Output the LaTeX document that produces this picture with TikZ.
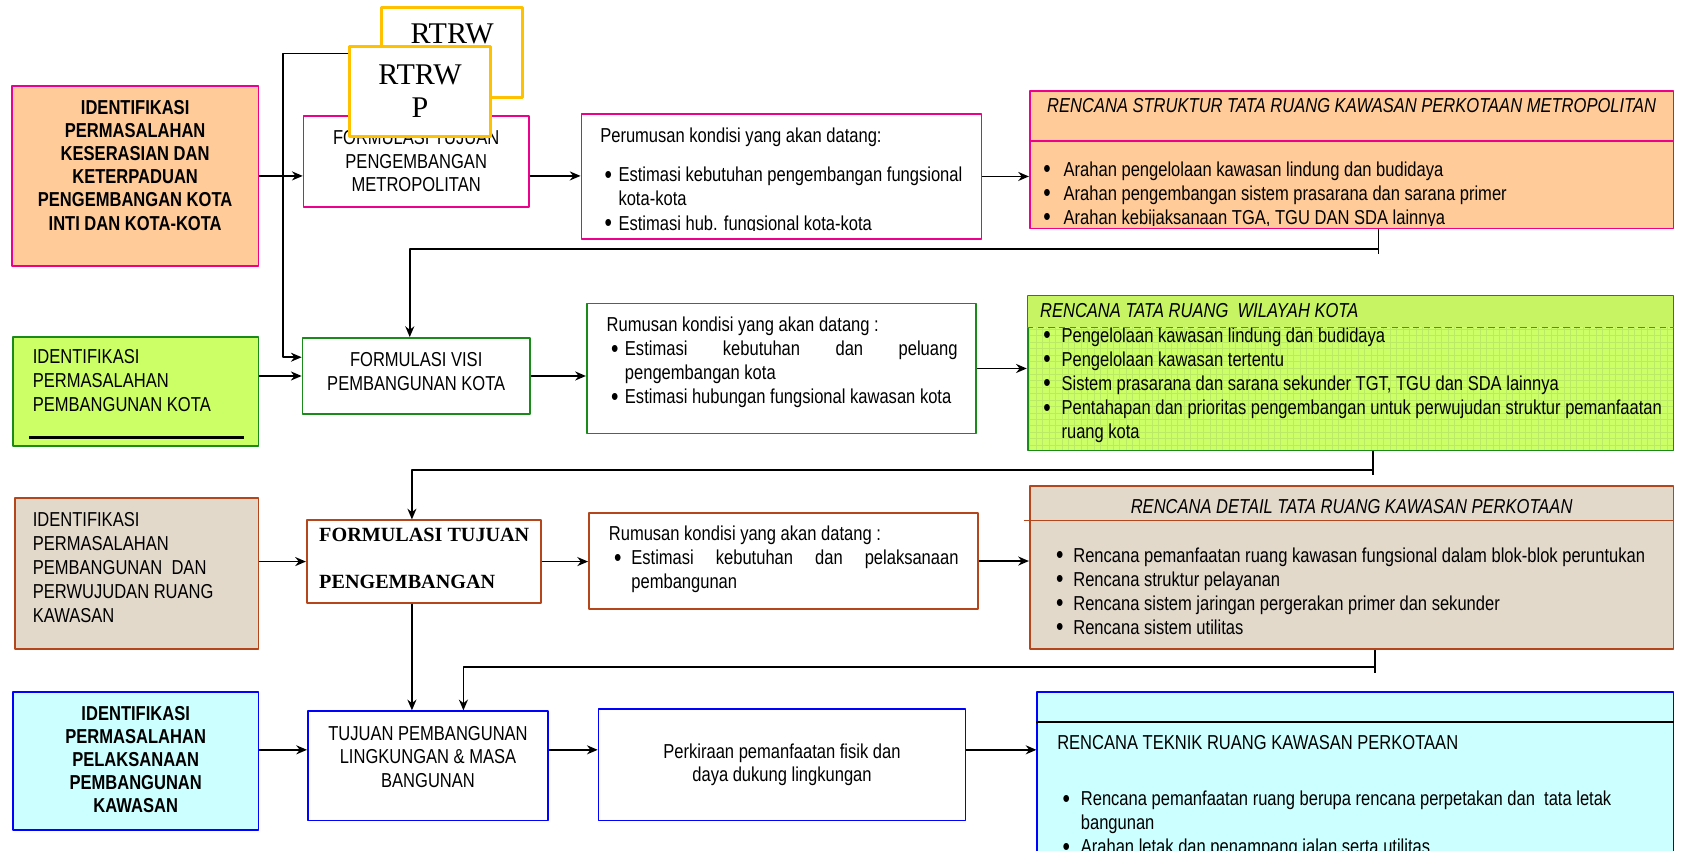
\documentclass[tikz,border=0pt]{standalone}
\usepackage{fontspec}
\setmainfont{Liberation Sans}[FakeStretch=0.82]
\newfontfamily\tnr{Liberation Serif}
\usetikzlibrary{fit,patterns,arrows.meta}
\definecolor{cpeach}{HTML}{FFCC99}
\definecolor{climey}{HTML}{CCFF66}
\definecolor{cband}{HTML}{C6F462}
\definecolor{cgrid}{HTML}{BBEA68}
\definecolor{cbeige}{HTML}{E2D9CB}
\definecolor{caqua}{HTML}{CCFFFF}
\definecolor{cgold}{HTML}{FFC000}
\definecolor{crust}{HTML}{B5461C}
\definecolor{cgreen}{HTML}{1A8A1A}
\newcommand{\blt}[2]{\hspace*{#1}\makebox[#2][l]{\raisebox{-.7pt}{\fontsize{12}{11}\selectfont\textbullet}}}
\begin{document}
\begin{tikzpicture}[x=.5pt,y=-.5pt,line join=round,>={Stealth[length=5pt,width=4.2pt]},
  font=\fontsize{9.4}{11}\selectfont,
  box/.style={draw,line width=.8pt,inner sep=0pt},
  arr/.style={->,line width=.8pt},
  txt/.style={inner sep=0pt,align=left,font=\fontsize{9.4}{11.2}\selectfont},
  ctxt/.style={inner sep=0pt,align=center,font=\fontsize{9.4}{11}\selectfont},
  btxt/.style={inner sep=0pt,align=center,font=\fontsize{9.4}{10.8}\selectfont\bfseries},
  itxt/.style={inner sep=0pt,font=\fontsize{9.4}{11}\selectfont\itshape},
  rtrw/.style={box,draw=cgold,line width=1.3pt,fill=white}]
\useasboundingbox (0,0) rectangle (1568,793);
\clip (0,0) rectangle (1568,793);
% baris 1 : metropolitan
\node[box,draw=magenta,fill=cpeach,fit={(11,80) (241,248)}] (idm) {};
\node[btxt] (idm-t) at ([shift={(0,-10)}]idm.center)
  {IDENTIFIKASI\\PERMASALAHAN\\KESERASIAN DAN\\KETERPADUAN\\PENGEMBANGAN KOTA\\INTI DAN KOTA-KOTA};
\node[box,draw=magenta,fit={(283,108) (493,193)}] (ftm) {};
\node[ctxt] (ftm-t) at (ftm.center) {FORMULASI TUJUAN\\PENGEMBANGAN\\METROPOLITAN};
\node[rtrw,fit={(356,7) (487,91)}] (rtrwb) {};
\node[inner sep=0pt,font=\fontsize{14}{15.5}\selectfont\tnr] (rtrwb-t) at ([shift={(0,26)}]rtrwb.north) {RTRW};
\node[rtrw,fit={(326,43) (457,127)}] (rtrwp) {};
\node[inner sep=0pt,align=center,font=\fontsize{14}{15.5}\selectfont\tnr] (rtrwp-t) at (rtrwp.center) {RTRW\\P};
\node[box,draw=magenta,fit={(542,106) (915,223)}] (per) {};
\begin{scope}
  \clip (per.north west) rectangle ([shift={(0,-9)}]per.south east);
  \node[txt,anchor=north west] (per-t) at ([shift={(18,14)}]per.north west)
    {Perumusan kondisi yang akan datang:\\[7pt]
     \blt{2pt}{6.5pt}Estimasi kebutuhan pengembangan fungsional\\
     \hspace*{8.5pt}kota-kota\\
     \blt{2pt}{6.5pt}Estimasi hub. fungsional kota-kota};
\end{scope}
\node[box,draw=magenta,fill=cpeach,fit={(960,85) (1560,213)}] (struk) {};
\draw[magenta,line width=.8pt] ([shift={(0,47)}]struk.north west) -- ([shift={(0,47)}]struk.north east);
\node[itxt] (struk-h) at ([shift={(0,14)}]struk.north) {RENCANA STRUKTUR TATA RUANG KAWASAN PERKOTAAN METROPOLITAN};
\begin{scope}
  \clip (struk.north west) rectangle ([shift={(0,-4)}]struk.south east);
  \node[txt,anchor=north west] (struk-t) at ([shift={(13,66)}]struk.north west)
    {\blt{0pt}{9.5pt}Arahan pengelolaan kawasan lindung dan budidaya\\
     \blt{0pt}{9.5pt}Arahan pengembangan sistem prasarana dan sarana primer\\
     \blt{0pt}{9.5pt}Arahan kebijaksanaan TGA, TGU DAN SDA lainnya};
\end{scope}
% baris 2 : kota
\node[box,draw=cgreen,fill=climey,fit={(12,314) (241,416)}] (idp) {};
\node[txt,anchor=north west] (idp-t) at ([shift={(19,12)}]idp.north west)
  {IDENTIFIKASI\\PERMASALAHAN\\PEMBANGUNAN KOTA};
\draw[line width=1pt] ([shift={(16,-9)}]idp.south west) -- ([shift={(-14,-9)}]idp.south east);
\node[box,draw=cgreen,fit={(282,315) (494,386)}] (fv) {};
\node[ctxt] (fv-t) at ([shift={(0,-4)}]fv.center) {FORMULASI VISI\\PEMBANGUNAN KOTA};
\node[box,draw=cgreen,fit={(547,283) (910,404)}] (rum2) {};
\node[txt,anchor=north west] (rum2-t) at ([shift={(19,13)}]rum2.north west)
  {Rumusan kondisi yang akan datang :\\
   \blt{2pt}{6.5pt}\makebox[155pt][s]{Estimasi kebutuhan dan peluang}\\
   \hspace*{8.5pt}pengembangan kota\\
   \blt{2pt}{6.5pt}Estimasi hubungan fungsional kawasan kota};
\node[box,draw=cgreen,preaction={fill=climey},pattern=grid,pattern color=cgrid,fit={(958,276) (1560,420)}] (rtk) {};
\node[txt,anchor=north west] (rtk-t) at ([shift={(15,30)}]rtk.north west)
  {\blt{0pt}{8.5pt}Pengelolaan kawasan lindung dan budidaya\\
   \blt{0pt}{8.5pt}Pengelolaan kawasan tertentu\\
   \blt{0pt}{8.5pt}Sistem prasarana dan sarana sekunder TGT, TGU dan SDA lainnya\\
   \blt{0pt}{8.5pt}Pentahapan dan prioritas pengembangan untuk perwujudan struktur pemanfaatan\\
   \hspace*{8.5pt}ruang kota};
\fill[cband] ([shift={(1,1)}]rtk.north west) rectangle ([shift={(-1,30)}]rtk.north east);
\draw[densely dashed,black!55,line width=.4pt] ([shift={(0,30)}]rtk.north west) -- ([shift={(0,30)}]rtk.north east);
\node[itxt,anchor=west] (rtk-h) at ([shift={(12,14)}]rtk.north west) {RENCANA TATA RUANG~ WILAYAH KOTA};
% baris 3 : kawasan
\node[box,draw=crust,fill=cbeige,fit={(14,464) (241,605)}] (idr) {};
\node[txt,anchor=north west] (idr-t) at ([shift={(17,14)}]idr.north west)
  {IDENTIFIKASI\\PERMASALAHAN\\PEMBANGUNAN~ DAN\\PERWUJUDAN RUANG\\KAWASAN};
\node[box,draw=crust,fit={(286,485) (504,562)}] (ftp) {};
\node[inner sep=0pt,align=left,font=\fontsize{9.4}{11}\selectfont\tnr\bfseries,anchor=north west] (ftp-t)
  at ([shift={(12,8)}]ftp.north west) {FORMULASI TUJUAN\\[11pt]PENGEMBANGAN};
\node[box,draw=crust,fit={(549,478) (912,568)}] (rum3) {};
\node[txt,anchor=north west] (rum3-t) at ([shift={(19,13)}]rum3.north west)
  {Rumusan kondisi yang akan datang :\\
   \blt{2.5pt}{8pt}\makebox[152.5pt][s]{Estimasi kebutuhan dan pelaksanaan}\\
   \hspace*{10.5pt}pembangunan};
\node[box,draw=crust,fill=cbeige,fit={(960,453) (1560,605)}] (rdtr) {};
\draw[crust,line width=.8pt] ([shift={(-5,33)}]rdtr.north west) -- ([shift={(0,33)}]rdtr.north east);
\node[itxt] (rdtr-h) at ([shift={(0,20)}]rdtr.north) {RENCANA DETAIL TATA RUANG KAWASAN PERKOTAAN};
\node[txt,anchor=north west] (rdtr-t) at ([shift={(25,58)}]rdtr.north west)
  {\blt{0pt}{8pt}Rencana pemanfaatan ruang kawasan fungsional dalam blok-blok peruntukan\\
   \blt{0pt}{8pt}Rencana struktur pelayanan\\
   \blt{0pt}{8pt}Rencana sistem jaringan pergerakan primer dan sekunder\\
   \blt{0pt}{8pt}Rencana sistem utilitas};
% baris 4 : bangunan
\node[box,draw=blue,fill=caqua,fit={(12,645) (241,774)}] (idk) {};
\node[btxt] (idk-t) at ([shift={(0,-1.5)}]idk.center)
  {IDENTIFIKASI\\PERMASALAHAN\\PELAKSANAAN\\PEMBANGUNAN\\KAWASAN};
\node[box,draw=blue,fit={(287,663) (511,765)}] (tp) {};
\node[ctxt] (tp-t) at ([shift={(0,-8.5)}]tp.center) {TUJUAN PEMBANGUNAN\\LINGKUNGAN \& MASA\\BANGUNAN};
\node[box,draw=blue,fit={(558,661) (900,765)}] (perk) {};
\node[ctxt] (perk-t) at (perk.center) {Perkiraan pemanfaatan fisik dan\\daya dukung lingkungan};
\node[box,draw=blue,fill=caqua,fit={(967,645) (1560,820)}] (rtek) {};
\draw[line width=.8pt] ([shift={(0,29)}]rtek.north west) -- ([shift={(0,29)}]rtek.north east);
\node[txt,anchor=north west] (rtek-h) at ([shift={(19,41)}]rtek.north west) {RENCANA TEKNIK RUANG KAWASAN PERKOTAAN};
\node[txt,anchor=north west] (rtek-t) at ([shift={(24,93)}]rtek.north west)
  {\blt{0pt}{8.5pt}Rencana pemanfaatan ruang berupa rencana perpetakan dan~ tata letak\\
   \hspace*{8.5pt}bangunan\\
   \blt{0pt}{8.5pt}Arahan letak dan penampang jalan serta utilitas};
% panah
\coordinate (j1) at (264,50);
\coordinate (j2) at (264,333);
\coordinate (f1) at (1285,232);
\coordinate (f1e) at (382,232);
\coordinate (f2) at (1280,438);
\coordinate (f2e) at (384,438);
\coordinate (f3) at (1282,622);
\coordinate (f3e) at (432,622);
\coordinate (tpin) at ([shift={(0,-15)}]tp.west);
\draw[arr] (rtrwp.west |- j1) -- (j1) -- (j2) -- (j2 -| fv.west);
\draw[arr] (idm.east) -- (idm.east -| ftm.west);
\draw[arr] (ftm.east |- idm.east) -- (per.west |- idm.east);
\draw[arr] (per.east) -- (per.east -| struk.west);
\draw[line width=.8pt] (struk.south -| f1) -- ([shift={(0,5)}]f1);
\draw[arr] (f1) -- (f1e) -- (f1e |- fv.north);
\draw[arr] (idp.east |- fv.west) -- (fv.west);
\draw[arr] (fv.east) -- (fv.east -| rum2.west);
\draw[arr] (rum2.east) -- (rum2.east -| rtk.west);
\draw[line width=.8pt] (rtk.south -| f2) -- ([shift={(0,5)}]f2);
\draw[arr] (f2) -- (f2e) -- (f2e |- ftp.north);
\draw[arr] (idr.east |- ftp.west) -- (ftp.west);
\draw[arr] (ftp.east) -- (ftp.east -| rum3.west);
\draw[arr] (rum3.east) -- (rum3.east -| rdtr.west);
\draw[arr] (ftp.south -| f2e) -- (f2e |- tp.north);
\draw[line width=.8pt] (rdtr.south -| f3) -- ([shift={(0,5)}]f3);
\draw[arr] (f3) -- (f3e) -- (f3e |- tp.north);
\draw[arr] (idk.east |- tpin) -- (tpin);
\draw[arr] (tp.east |- tpin) -- (perk.west |- tpin);
\draw[arr] (perk.east |- tpin) -- (rtek.west |- tpin);
\end{tikzpicture}
\end{document}
